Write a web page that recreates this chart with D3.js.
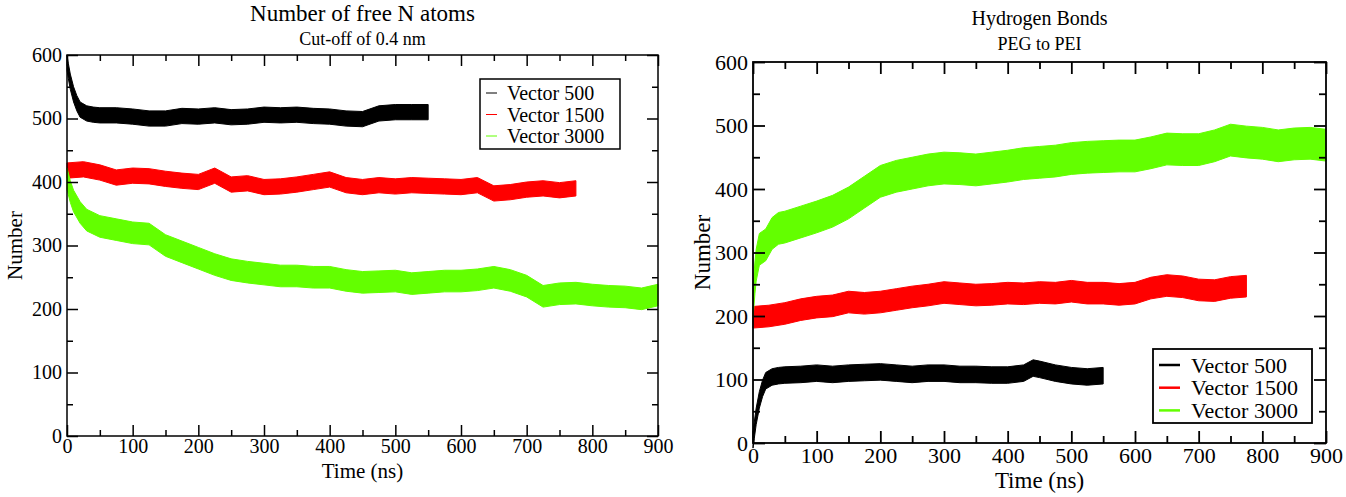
<!DOCTYPE html>
<html><head><meta charset="utf-8">
<script src="https://cdn.jsdelivr.net/npm/d3@7/dist/d3.min.js"></script>
<style>
html,body{margin:0;padding:0;background:#fff;}
</style></head>
<body><svg id="c" width="1346" height="497"></svg>
<script>
// ---------- DATA ----------
const seriesNames = ["Vector 500", "Vector 1500", "Vector 3000"];
const seriesColors = ["#000000", "#ff0000", "#63ff00"];
const xTicks = [0,100,200,300,400,500,600,700,800,900];
const yTicks = [0,100,200,300,400,500,600];

// Left panel: number of free N atoms
const freeTime500 = [0,2,5,10,15,20,30,40,50,75,100,125,150,175,200,225,250,275,300,325,350,375,400,425,450,475,500,525,550];
const freeVal500  = [588,575,558,538,524,514,508,506,505,505,503,500,500,504,503,505,502,503,506,505,506,504,503,500,499,508,510,510,510];
const freeTime1500 = [0,25,50,75,100,125,150,175,200,225,250,275,300,325,350,375,400,425,450,475,500,525,550,575,600,625,650,675,700,725,750,775];
const freeVal1500  = [418,420,415,407,410,409,405,402,400,410,396,398,392,393,396,400,404,395,392,395,393,395,394,393,392,395,382,384,388,390,387,390];
const freeTime3000 = [0,5,10,20,30,50,75,100,125,150,175,200,225,250,275,300,325,350,375,400,425,450,475,500,525,550,575,600,625,650,675,700,725,750,775,800,825,850,875,900];
const freeVal3000  = [405,385,370,352,340,330,325,320,318,300,290,280,270,262,258,255,252,252,250,250,245,242,243,244,240,242,244,244,246,250,245,236,220,224,225,222,220,219,216,222];
const freeNoise = [12, 12, 17];

// Right panel: hydrogen bonds PEG to PEI
const hbTime500 = [0,2,5,10,15,20,30,40,50,75,100,125,150,175,200,225,250,275,300,325,350,375,400,425,440,450,475,500,525,550];
const hbVal500  = [5,20,42,68,86,98,104,106,107,108,110,108,110,111,112,110,108,110,110,108,108,107,107,110,118,116,110,106,104,106];
const hbTime1500 = [0,25,50,75,100,125,150,175,200,225,250,275,300,325,350,375,400,425,450,475,500,525,550,575,600,625,650,675,700,725,750,775];
const hbVal1500  = [198,200,204,210,214,216,222,220,222,226,230,233,237,235,233,234,236,235,237,236,239,236,236,234,236,244,248,246,241,240,245,247];
const hbTime3000 = [0,3,5,10,20,30,40,50,75,100,125,150,175,200,225,250,275,300,325,350,375,400,425,450,475,500,525,550,575,600,625,650,675,700,725,750,775,800,825,850,875,900];
const hbVal3000  = [222,260,280,305,312,330,338,340,348,356,365,378,395,412,420,425,430,433,432,430,433,436,440,442,444,448,450,451,452,452,457,463,462,462,468,477,474,472,468,471,472,469];
const hbNoise = [13, 17, 25];

// ---------- DRAW ----------
const FONT = '"Liberation Serif", "Times New Roman", "DejaVu Serif", serif';
const svg = d3.select("#c");

function panel(opt) {
  const g = svg.append("g");
  const x = d3.scaleLinear().domain([0,900]).range([opt.x0, opt.x1]);
  const y = d3.scaleLinear().domain([0,600]).range([opt.y0, opt.y1]);
  const minorX = d3.range(50, 900, 100);
  const minorY = d3.range(50, 600, 100);

  // data bands (trace with its noise envelope)
  opt.series.forEach((s, i) => {
    const pts = s.t.map((t, k) => [t, s.v[k]]);
    const area = d3.area()
      .x(d => x(d[0]))
      .y0(d => y(d[1] - opt.noise[i]))
      .y1(d => y(d[1] + opt.noise[i]));
    g.append("path").datum(pts).attr("d", area)
      .attr("fill", seriesColors[i]).attr("stroke", seriesColors[i]).attr("stroke-width", 1);
  });

  const axStyle = sel => {
    sel.select(".domain").remove();
    sel.selectAll("line").attr("stroke","#000").attr("stroke-width", opt.lw);
    sel.selectAll("text").style("font-family", FONT).style("font-size", opt.tickFont + "px").attr("fill", "#000");
  };

  // bottom
  g.append("g").attr("transform", `translate(0,${opt.y0})`)
    .call(d3.axisBottom(x).tickValues(xTicks).tickSize(-opt.major).tickPadding(opt.xpad).tickFormat(d3.format("d")))
    .call(axStyle);
  g.append("g").attr("transform", `translate(0,${opt.y0})`)
    .call(d3.axisBottom(x).tickValues(minorX).tickSize(-opt.minor).tickFormat(""))
    .call(axStyle);
  // top
  g.append("g").attr("transform", `translate(0,${opt.y1})`)
    .call(d3.axisTop(x).tickValues(xTicks).tickSize(-opt.major).tickFormat(""))
    .call(axStyle);
  g.append("g").attr("transform", `translate(0,${opt.y1})`)
    .call(d3.axisTop(x).tickValues(minorX).tickSize(-opt.minor).tickFormat(""))
    .call(axStyle);
  // left
  g.append("g").attr("transform", `translate(${opt.x0},0)`)
    .call(d3.axisLeft(y).tickValues(yTicks).tickSize(-opt.major).tickPadding(opt.ypad).tickFormat(d3.format("d")))
    .call(axStyle);
  g.append("g").attr("transform", `translate(${opt.x0},0)`)
    .call(d3.axisLeft(y).tickValues(minorY).tickSize(-opt.minor).tickFormat(""))
    .call(axStyle);
  // right
  g.append("g").attr("transform", `translate(${opt.x1},0)`)
    .call(d3.axisRight(y).tickValues(yTicks).tickSize(-opt.major).tickFormat(""))
    .call(axStyle);
  g.append("g").attr("transform", `translate(${opt.x1},0)`)
    .call(d3.axisRight(y).tickValues(minorY).tickSize(-opt.minor).tickFormat(""))
    .call(axStyle);

  // frame
  g.append("rect").attr("x", opt.x0).attr("y", opt.y1)
    .attr("width", opt.x1 - opt.x0).attr("height", opt.y0 - opt.y1)
    .attr("fill", "none").attr("stroke", "#000").attr("stroke-width", opt.lw);

  const txt = (x0, y0, size, s) => g.append("text").attr("x", x0).attr("y", y0)
    .attr("text-anchor","middle").style("font-family", FONT).style("font-size", size + "px").attr("fill","#000").text(s);

  // titles
  const cx = (opt.x0 + opt.x1) / 2;
  txt(cx, opt.titleY, opt.titleFont, opt.title);
  txt(cx, opt.subY, opt.subFont, opt.subtitle);
  txt(cx, opt.xlabY, opt.labFont, "Time (ns)");
  txt(0, 0, opt.labFont, "Number").attr("transform", `translate(${opt.ylabX},${(opt.y0+opt.y1)/2}) rotate(-90)`);

  // legend
  const L = opt.legend;
  g.append("rect").attr("x", L.x).attr("y", L.y).attr("width", L.w).attr("height", L.h)
    .attr("fill", "#fff").attr("stroke", "#000").attr("stroke-width", opt.lw);
  seriesNames.forEach((n, i) => {
    const cy = L.y + L.first + i * L.step;
    g.append("line").attr("x1", L.x + L.lx0).attr("x2", L.x + L.lx1).attr("y1", cy).attr("y2", cy)
      .attr("stroke", seriesColors[i]).attr("stroke-width", L.lw);
    g.append("text").attr("x", L.x + L.tx).attr("y", cy).attr("dy", "0.35em")
      .style("font-family", FONT).style("font-size", L.font + "px").attr("fill","#000").text(n);
  });
}

panel({
  x0: 67, x1: 658, y0: 436, y1: 55, lw: 1.5, major: 11, minor: 6, tickFont: 20, xpad: 3, ypad: 5,
  series: [{t: freeTime500, v: freeVal500}, {t: freeTime1500, v: freeVal1500}, {t: freeTime3000, v: freeVal3000}],
  noise: freeNoise,
  title: "Number of free N atoms", subtitle: "Cut-off of 0.4 nm",
  titleY: 21, subY: 45, titleFont: 23, subFont: 18, labFont: 21, xlabY: 478, ylabX: 22,
  legend: {x: 480, y: 79, w: 140, h: 70, first: 14, step: 21.5, lx0: 6, lx1: 17, tx: 27, font: 20, lw: 1}
});

panel({
  x0: 753, x1: 1326, y0: 443, y1: 62, lw: 1.8, major: 12, minor: 7, tickFont: 22, xpad: 4, ypad: 5,
  series: [{t: hbTime500, v: hbVal500}, {t: hbTime1500, v: hbVal1500}, {t: hbTime3000, v: hbVal3000}],
  noise: hbNoise,
  title: "Hydrogen Bonds", subtitle: "PEG to PEI",
  titleY: 25, subY: 50, titleFont: 20, subFont: 18, labFont: 23, xlabY: 488, ylabX: 710,
  legend: {x: 1153, y: 349, w: 159, h: 74, first: 16, step: 22.7, lx0: 6, lx1: 27, tx: 38, font: 22, lw: 2.5}
});
</script></body></html>
